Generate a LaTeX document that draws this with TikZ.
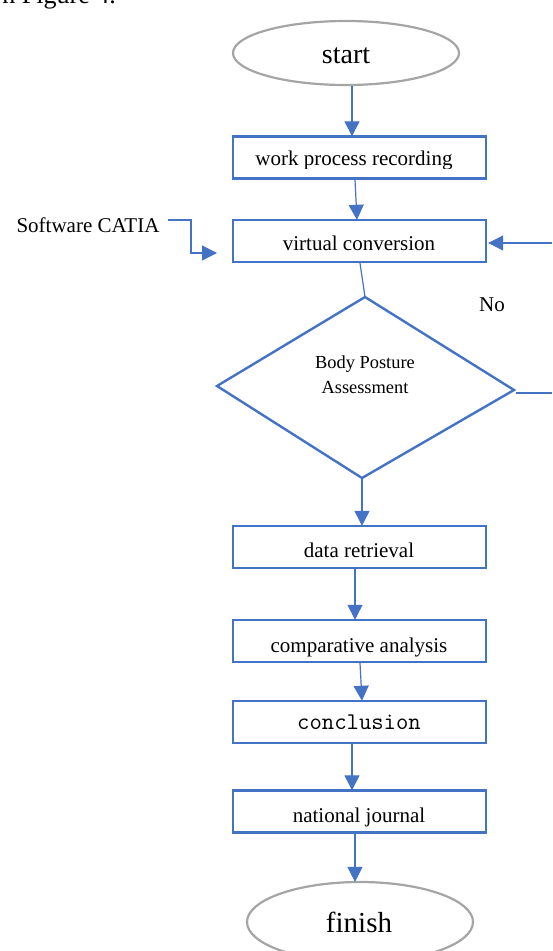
\documentclass[tikz,border=0pt]{standalone}
\usepackage{fontspec}
\setmainfont{Liberation Serif}
\usetikzlibrary{arrows.meta,shapes.geometric}
\definecolor{boxblue}{HTML}{4472C4}
\definecolor{ellgray}{HTML}{A5A5A5}
\begin{document}
\begin{tikzpicture}[x=1pt,y=-1pt,
  procbox/.style={draw=boxblue,line width=2.4pt,minimum width=253pt,minimum height=42pt,inner sep=0pt},
  term/.style={draw=ellgray,line width=2.2pt,ellipse,inner sep=0pt},
  flow/.style={draw=boxblue,line width=1.2pt,-{Triangle[length=15pt,width=15pt]}},
  plainline/.style={draw=boxblue,line width=1.2pt},
  lbl/.style={font=\fontsize{21}{25}\selectfont,inner sep=0pt,anchor=base}]
\useasboundingbox (0,0) rectangle (552,951);

% cut-off caption text at top
\node[lbl,anchor=base east,font=\fontsize{26}{30}\selectfont] (cap) at (116,3) {n Figure 4.};

% terminals
\node[term,minimum width=226pt,minimum height=64pt] (start) at (346,53) {};
\node[lbl,font=\fontsize{28}{32}\selectfont] (startT) at (346,63) {start};
\node[term,minimum width=226pt,minimum height=80pt] (finish) at (360,922) {};
\node[lbl,font=\fontsize{29}{33}\selectfont] (finishT) at (359,932) {finish};

% process boxes
\node[procbox] (rec) at (359.5,157.5) {};
\node[procbox] (vc) at (359.5,241) {};
\node[procbox] (dr) at (359.5,547) {};
\node[procbox] (ca) at (359.5,641) {};
\node[procbox] (con) at (359.5,722) {};
\node[procbox] (nj) at (359.5,811.5) {};

% texts (some clipped at the bottom as in the original)
\begin{scope}
  \clip (234,138) rectangle (485,168);
  \node[lbl] (recT) at (354,165) {work process recording};
\end{scope}
\node[lbl] (vcT) at (359,250) {virtual conversion};
\node[lbl] (drT) at (359,557) {data retrieval};
\begin{scope}
  \clip (234,621) rectangle (485,656);
  \node[lbl] (caT) at (359,652) {comparative analysis};
\end{scope}
\node[lbl,font=\ttfamily\fontsize{24}{28}\selectfont] (conT) at (359,729) {conclusion};
\begin{scope}
  \clip (234,791) rectangle (485,826);
  \node[lbl] (njT) at (359,822) {national journal};
\end{scope}

% diamond
\coordinate (dT) at (365,297);
\coordinate (dR) at (514,390);
\coordinate (dB) at (362,478);
\coordinate (dL) at (217,386);
\draw[boxblue,line width=2.4pt,line join=miter] (dT) -- (dR) -- (dB) -- (dL) -- cycle;
\node[lbl,font=\fontsize{18.4}{22}\selectfont] (bpa1) at (365,368) {Body Posture};
\node[lbl,font=\fontsize{18.4}{22}\selectfont] (bpa2) at (365,393) {Assessment};

% side labels
\node[lbl] (catia) at (88,232) {Software CATIA};
\node[lbl] (no) at (492,311) {No};

% connectors
\draw[flow] ([xshift=6pt]start.south) -- ([xshift=-7.5pt,yshift=-1pt]rec.north);
\draw[flow] ([xshift=-4.5pt]rec.south) -- ([xshift=-2.5pt,yshift=-1pt]vc.north);
\draw[plainline] ([xshift=0.5pt]vc.south) -- (dT);
\draw[flow] (dB) -- ([xshift=2.5pt,yshift=-1pt]dr.north);
\draw[flow] ([xshift=-4.5pt]dr.south) -- ([xshift=-4.5pt,yshift=-1pt]ca.north);
\draw[flow] ([xshift=0.5pt]ca.south) -- ([xshift=2.5pt,yshift=-1pt]con.north);
\draw[flow] ([xshift=-7.5pt]con.south) -- ([xshift=-7.5pt,yshift=-1pt]nj.north);
\draw[flow] ([xshift=-4.5pt]nj.south) -- ([xshift=-5pt,yshift=-1pt]finish.north);

\coordinate (catiaEnd) at (168,220);
\coordinate (catiaTip) at (217,253);
\draw[flow] (catiaEnd) -- (191,220) -- (191,253) -- (catiaTip);

\coordinate (loopIn) at (552,243);
\draw[flow] (loopIn) -- ([xshift=1pt,yshift=-2pt]vc.east);
\coordinate (loopOut) at (552,393);
\draw[plainline] (516,393) -- (loopOut);
\end{tikzpicture}
\end{document}
